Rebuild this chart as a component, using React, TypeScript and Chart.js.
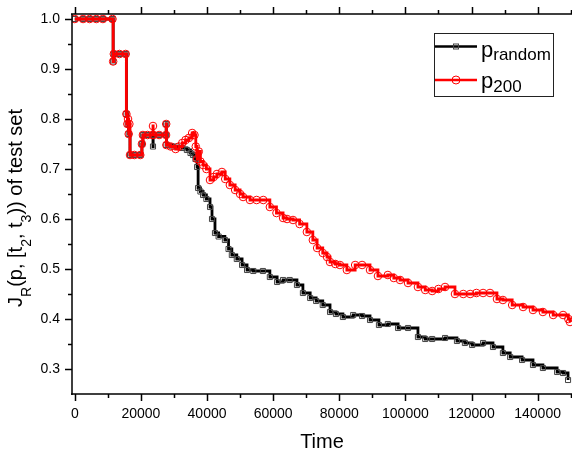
import React, { useEffect, useRef } from 'react';
import { Chart, registerables } from 'chart.js';

Chart.register(...registerables);

// ---- data ----
const randomTime = [0, 2500, 4500, 6500, 8500, 11400, 11600, 11800, 13500, 15400, 15600, 16000, 16300, 16700, 18000, 19800, 20300, 20600, 22000, 23600, 23650, 23700, 25500, 27600, 27650, 27700, 29500, 31000, 32500, 33900, 35000, 35750, 36500, 37000, 37300, 38000, 38800, 39800, 40900, 41500, 42400, 43500, 45400, 46500, 47500, 49000, 50600, 52100, 54000, 56900, 59000, 61200, 63000, 65000, 67200, 69000, 71200, 73000, 75000, 77200, 79000, 81100, 84200, 86900, 89300, 92000, 94700, 97800, 100800, 103800, 106000, 108100, 112000, 115600, 118000, 120200, 123500, 126500, 129500, 131700, 135300, 138600, 141600, 145900, 147700, 149200];
const randomJ = [1.0, 1.0, 1.0, 1.0, 1.0, 1.0, 0.915, 0.93, 0.93, 0.93, 0.81, 0.79, 0.77, 0.728, 0.728, 0.728, 0.75, 0.768, 0.768, 0.768, 0.745, 0.768, 0.768, 0.768, 0.79, 0.748, 0.745, 0.745, 0.742, 0.738, 0.732, 0.728, 0.72, 0.704, 0.662, 0.655, 0.648, 0.64, 0.624, 0.6, 0.572, 0.565, 0.558, 0.54, 0.528, 0.52, 0.508, 0.498, 0.496, 0.496, 0.484, 0.474, 0.478, 0.478, 0.468, 0.452, 0.442, 0.436, 0.428, 0.414, 0.41, 0.404, 0.408, 0.406, 0.398, 0.388, 0.39, 0.382, 0.382, 0.364, 0.36, 0.36, 0.362, 0.356, 0.352, 0.348, 0.352, 0.344, 0.332, 0.324, 0.318, 0.308, 0.302, 0.294, 0.292, 0.278];

const p200Time = [0, 2500, 4500, 6500, 8500, 11400, 11600, 11800, 13500, 15400, 15600, 15900, 16100, 16300, 16500, 16700, 18000, 19800, 20300, 20600, 22000, 23600, 23650, 23700, 25500, 27600, 27650, 27700, 29000, 30500, 31500, 32500, 33500, 34500, 35500, 36200, 36600, 37000, 37500, 38000, 38800, 39800, 40900, 42000, 43000, 44500, 45500, 46900, 48500, 50000, 50900, 53000, 55000, 57000, 59000, 61000, 63000, 64200, 66000, 68000, 70200, 72000, 73300, 75000, 76300, 77200, 78800, 80200, 82300, 84800, 86900, 89300, 91700, 94700, 96500, 98400, 100800, 103800, 106000, 108100, 110000, 112000, 115000, 117500, 119600, 121500, 123500, 125600, 127700, 129500, 132300, 135600, 138600, 141600, 144700, 147700, 149300, 149800];
const p200J = [1.0, 1.0, 1.0, 1.0, 1.0, 1.0, 0.915, 0.93, 0.93, 0.93, 0.81, 0.79, 0.8, 0.77, 0.79, 0.728, 0.728, 0.728, 0.75, 0.768, 0.768, 0.768, 0.786, 0.768, 0.768, 0.768, 0.79, 0.748, 0.745, 0.74, 0.745, 0.752, 0.758, 0.762, 0.772, 0.768, 0.745, 0.72, 0.735, 0.715, 0.708, 0.7, 0.678, 0.684, 0.69, 0.694, 0.68, 0.668, 0.658, 0.65, 0.644, 0.638, 0.638, 0.638, 0.624, 0.612, 0.602, 0.6, 0.598, 0.59, 0.574, 0.558, 0.542, 0.532, 0.524, 0.514, 0.51, 0.508, 0.498, 0.508, 0.508, 0.498, 0.486, 0.488, 0.482, 0.478, 0.472, 0.464, 0.458, 0.456, 0.46, 0.464, 0.45, 0.45, 0.45, 0.452, 0.452, 0.452, 0.44, 0.438, 0.428, 0.424, 0.418, 0.414, 0.408, 0.408, 0.4, 0.394];

const xTickValues = [0, 20000, 40000, 60000, 80000, 100000, 120000, 140000];
const xMinorValues = [10000, 30000, 50000, 70000, 90000, 110000, 130000, 150000];
const yTickValues = [0.3, 0.4, 0.5, 0.6, 0.7, 0.8, 0.9, 1.0];
const yMinorValues = [0.35, 0.45, 0.55, 0.65, 0.75, 0.85, 0.95];

const FONT = '"Liberation Sans", Arial, sans-serif';

function drawRich(ctx: CanvasRenderingContext2D, parts: { t: string; sub?: boolean }[], x: number, y: number, main: number, sub: number, off: number, align: 'left' | 'center') {
  let total = 0;
  const widths = parts.map((p) => {
    ctx.font = `${p.sub ? sub : main}px ${FONT}`;
    const w = ctx.measureText(p.t).width;
    total += w;
    return w;
  });
  let cx = align === 'center' ? x - total / 2 : x;
  ctx.textAlign = 'left';
  ctx.textBaseline = 'alphabetic';
  parts.forEach((p, i) => {
    ctx.font = `${p.sub ? sub : main}px ${FONT}`;
    ctx.fillText(p.t, cx, p.sub ? y + off : y);
    cx += widths[i];
  });
}

const framePlugin = {
  id: 'frame',
  afterDraw(chart: any) {
    const { ctx, chartArea: ca, scales } = chart;
    const xs = scales.x;
    const ys = scales.y;
    ctx.save();
    ctx.strokeStyle = '#000';
    ctx.fillStyle = '#000';
    ctx.lineWidth = 1.5;
    ctx.beginPath();
    ctx.moveTo(ca.left, ca.top);
    ctx.lineTo(ca.left, ca.bottom + 1);
    ctx.moveTo(ca.left - 1, ca.bottom);
    ctx.lineTo(ca.right, ca.bottom);
    ctx.moveTo(ca.left - 1, ca.top);
    ctx.lineTo(ca.right, ca.top);
    xTickValues.forEach((v) => {
      const px = Math.round(xs.getPixelForValue(v)) + 0.5;
      ctx.moveTo(px, ca.bottom);
      ctx.lineTo(px, ca.bottom + 7);
      ctx.moveTo(px, ca.top);
      ctx.lineTo(px, ca.top - 7);
    });
    xMinorValues.forEach((v) => {
      const px = Math.round(xs.getPixelForValue(v)) + 0.5;
      ctx.moveTo(px, ca.bottom);
      ctx.lineTo(px, ca.bottom + 4);
      ctx.moveTo(px, ca.top);
      ctx.lineTo(px, ca.top - 4);
    });
    yTickValues.forEach((v) => {
      const py = Math.round(ys.getPixelForValue(v)) + 0.5;
      ctx.moveTo(ca.left, py);
      ctx.lineTo(ca.left - 7, py);
    });
    yMinorValues.forEach((v) => {
      const py = Math.round(ys.getPixelForValue(v)) + 0.5;
      ctx.moveTo(ca.left, py);
      ctx.lineTo(ca.left - 4, py);
    });
    ctx.stroke();

    // x title
    ctx.font = `20px ${FONT}`;
    ctx.textAlign = 'center';
    ctx.textBaseline = 'alphabetic';
    ctx.fillText('Time', 322, 448);

    // y title (rotated, with subscripts)
    ctx.save();
    ctx.translate(22, 208);
    ctx.rotate(-Math.PI / 2);
    drawRich(ctx, [
      { t: 'J' }, { t: 'R', sub: true }, { t: '(p, [t' }, { t: '2', sub: true },
      { t: ', t' }, { t: '3', sub: true }, { t: ')) of test set' },
    ], 0, 0, 20, 14, 9, 'center');
    ctx.restore();

    // legend
    ctx.lineWidth = 1;
    ctx.strokeStyle = '#222';
    ctx.strokeRect(434.5, 33.5, 119, 63);
    ctx.lineWidth = 2.5;
    ctx.strokeStyle = '#000';
    ctx.beginPath();
    ctx.moveTo(435, 46.5);
    ctx.lineTo(477, 46.5);
    ctx.stroke();
    ctx.lineWidth = 1;
    ctx.strokeStyle = '#444';
    ctx.strokeRect(453.5, 44, 5, 5);
    ctx.lineWidth = 2.5;
    ctx.strokeStyle = '#ff0000';
    ctx.beginPath();
    ctx.moveTo(435, 80);
    ctx.lineTo(477, 80);
    ctx.stroke();
    ctx.lineWidth = 1;
    ctx.beginPath();
    ctx.arc(456, 80, 4, 0, Math.PI * 2);
    ctx.stroke();
    ctx.fillStyle = '#000';
    drawRich(ctx, [{ t: 'p' }, { t: 'random', sub: true }], 481, 57, 22, 17, 3, 'left');
    drawRich(ctx, [{ t: 'p' }, { t: '200', sub: true }], 481, 88, 22, 17, 4, 'left');
    ctx.restore();
  },
};

export default function App() {
  const ref = useRef<HTMLCanvasElement | null>(null);
  useEffect(() => {
    if (!ref.current) return;
    const chart = new Chart(ref.current, {
      type: 'line',
      data: {
        datasets: [
          {
            label: 'p200',
            data: p200Time.map((t, i) => ({ x: t, y: p200J[i] })),
            borderColor: '#ff0000',
            borderWidth: 2.8,
            stepped: true,
            pointStyle: 'circle',
            pointRadius: 3.8,
            pointBorderWidth: 1,
            pointBorderColor: '#ff0000',
            pointBackgroundColor: 'rgba(0,0,0,0)',
            order: 0,
          },
          {
            label: 'prandom',
            data: randomTime.map((t, i) => ({ x: t, y: randomJ[i] })),
            borderColor: '#000000',
            borderWidth: 2.8,
            stepped: true,
            pointStyle: 'rect',
            pointRadius: 3.6,
            pointBorderWidth: 1,
            pointBorderColor: '#444',
            pointBackgroundColor: 'rgba(0,0,0,0)',
            order: 1,
          },
        ],
      },
      options: {
        responsive: false,
        animation: false,
        events: [],
        layout: { autoPadding: false, padding: { top: 14, left: 0, right: 0, bottom: 0 } },
        plugins: { legend: { display: false }, tooltip: { enabled: false } },
        scales: {
          x: {
            type: 'linear',
            min: -850,
            max: 150400,
            grid: { display: false, drawTicks: true, tickLength: 7 },
            border: { display: false },
            afterBuildTicks: (s: any) => { s.ticks = xTickValues.map((v) => ({ value: v })); },
            afterFit: (s: any) => { s.height = 57; s.paddingRight = 0; s.paddingLeft = 0; },
            ticks: {
              padding: 5,
              maxRotation: 0,
              autoSkip: false,
              color: '#000',
              font: { family: FONT, size: 14 },
              callback: (v: any) => String(v),
            },
          },
          y: {
            type: 'linear',
            min: 0.25,
            max: 1.01,
            grid: { display: false, drawTicks: true, tickLength: 7 },
            border: { display: false },
            afterBuildTicks: (s: any) => { s.ticks = yTickValues.map((v) => ({ value: v })); },
            afterFit: (s: any) => { s.width = 72; s.paddingTop = 0; s.paddingBottom = 0; },
            ticks: {
              padding: 5,
              autoSkip: false,
              color: '#000',
              font: { family: FONT, size: 14 },
              callback: (v: any) => Number(v).toFixed(1),
            },
          },
        },
      },
      plugins: [framePlugin],
    });
    return () => chart.destroy();
  }, []);
  return (
    <div style={{ position: 'fixed', left: 0, top: 0, width: 572, height: 451, background: '#fff' }}>
      <canvas ref={ref} width={572} height={451} />
    </div>
  );
}
